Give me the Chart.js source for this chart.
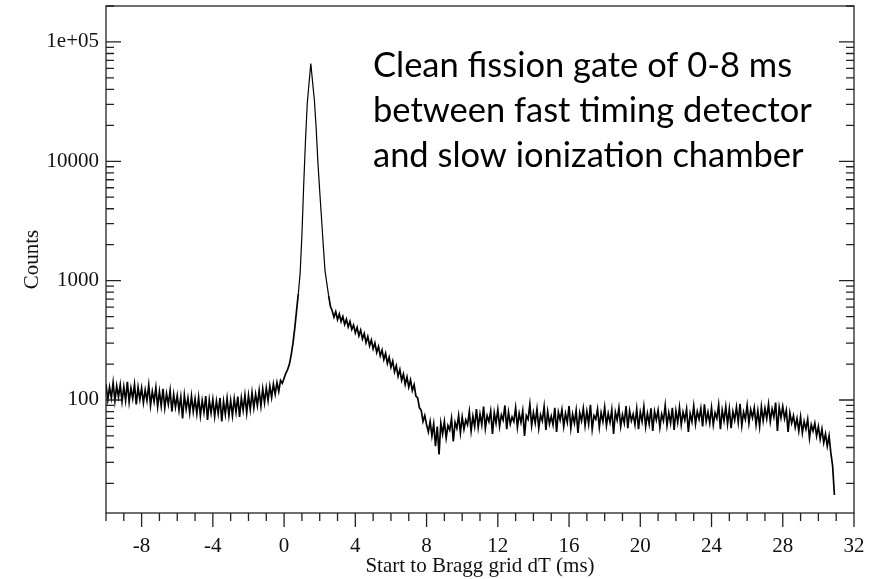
<!DOCTYPE html>
<html>
<head>
<meta charset="utf-8">
<script src="https://cdn.jsdelivr.net/npm/chart.js@4.4.0/dist/chart.umd.min.js"></script>
<style>
  html, body { margin: 0; padding: 0; background: #fff; }
  #wrap { width: 869px; height: 579px; }
</style>
</head>
<body>
<div id="wrap"><canvas id="mychart" width="869" height="579"></canvas></div>
<script>
// histogram, bins 0.1 ms wide
var binWidth = 0.1;

var baselineStart = -10.0;
var baselineCounts = [
  136, 100, 128, 104, 140, 98, 131, 106, 134, 97,
  129, 99, 142, 96, 126, 103, 135, 92, 128, 101,
  126, 95, 121, 99, 133, 90, 118, 97, 127, 88,
  118, 89, 124, 86, 113, 92, 120, 80, 111, 87,
  109, 82, 106, 70, 110, 84, 104, 78, 108, 80,
  102, 77, 105, 74, 99, 79, 108, 68, 100, 78,
  101, 73, 98, 77, 104, 66, 97, 76, 103, 74,
  99, 74, 102, 79, 107, 72, 104, 82, 110, 78,
  109, 83, 115, 86, 112, 90, 120, 89, 124, 95,
  126, 99, 131, 105, 136, 112, 140, 118, 146, 138
];

var peakStart = 0.0;
var peakCounts = [
  152, 168, 180, 200, 240, 300, 400, 560, 780, 1150,
  2400, 6300, 14800, 30500, 45000, 66000, 46000, 32600, 19000, 9700,
  5600, 3350, 1970, 1200, 950, 750, 610
];

var shoulderStart = 2.7;
var shoulderCounts = [
  560, 495, 550, 470, 525, 455, 500, 430, 475, 410,
  455, 390, 425, 365, 405, 345, 385, 325, 360, 302,
  340, 285, 318, 268, 300, 250, 280, 235, 262, 218,
  246, 202, 228, 188, 212, 172, 194, 158, 180, 146,
  165, 135, 156, 128, 147, 120, 134, 108, 104, 86,
  82, 66, 74
];

var plateauStart = 8.0;
var plateauCounts = [
  62, 54, 66, 50, 63, 41, 60, 35, 64, 52,
  66, 48, 61, 56, 70, 45, 65, 58, 74, 53,
  72, 57, 68, 62, 80, 55, 73, 60, 84, 59,
  76, 62, 88, 58, 74, 66, 81, 52, 78, 64,
  83, 60, 75, 68, 90, 57, 79, 63, 72, 66,
  86, 59, 77, 65, 81, 50, 74, 69, 92, 61,
  78, 64, 84, 58, 75, 67, 88, 56, 80, 63,
  73, 62, 86, 54, 79, 68, 83, 60, 77, 65,
  89, 58, 76, 64, 82, 53, 78, 67, 85, 61,
  80, 63, 91, 57, 74, 69, 84, 59, 78, 66,
  87, 61, 77, 65, 83, 52, 79, 68, 86, 60,
  75, 64, 89, 58, 81, 67, 76, 62, 84, 57,
  79, 66, 88, 60, 77, 63, 85, 55, 80, 68,
  82, 59, 76, 67, 90, 61, 78, 64, 86, 56,
  81, 65, 87, 62, 79, 68, 84, 54, 77, 66,
  89, 63, 80, 69, 85, 60, 92, 66, 79, 64,
  86, 62, 78, 70, 91, 57, 82, 67, 88, 63,
  84, 58, 80, 68, 87, 65, 93, 61, 79, 69,
  90, 64, 83, 71, 86, 62, 81, 60, 88, 67,
  85, 70, 92, 66, 84, 72, 95, 55, 87, 71
];

var tailStart = 28.0;
var tailCounts = [
  88, 70, 82, 54, 78, 64, 74, 59, 70, 55,
  72, 53, 66, 57, 69, 48, 62, 55, 64, 50,
  60, 47, 57, 44, 52, 41, 50, 36, 28, 16
];

var xTicks = [-8, -4, 0, 4, 8, 12, 16, 20, 24, 28, 32];
var yTicks = [100, 1000, 10000, 100000];
var yTickLabels = ['100', '1000', '10000', '1e+05'];

var noteLines = [
  'Clean fission gate of 0-8 ms',
  'between fast timing detector',
  'and slow ionization chamber'
];

function toPoints(start, counts) {
  return counts.map(function (c, i) {
    return { x: Math.round((start + i * binWidth) * 100) / 100, y: c };
  });
}

var points = [].concat(
  toPoints(baselineStart, baselineCounts),
  toPoints(peakStart, peakCounts),
  toPoints(shoulderStart, shoulderCounts),
  toPoints(plateauStart, plateauCounts),
  toPoints(tailStart, tailCounts)
);

var serif = 'Liberation Serif';

// frame, minor ticks and the note
var frame = {
  id: 'frame',
  afterDraw: function (chart) {
    var ctx = chart.ctx, a = chart.chartArea;
    var xs = chart.scales.x, ys = chart.scales.y;
    ctx.save();
    ctx.strokeStyle = '#222';
    ctx.lineWidth = 1.3;
    ctx.strokeRect(a.left, a.top, a.right - a.left, a.bottom - a.top);
    ctx.beginPath();
    for (var v = xs.min; v <= xs.max; v += 1) {
      var px = xs.getPixelForValue(v);
      var len = xTicks.indexOf(v) >= 0 ? 14 : 8;
      ctx.moveTo(px, a.bottom);
      ctx.lineTo(px, a.bottom + len);
    }
    for (var d = 1; d <= 5; d++) {
      for (var m = 1; m <= 9; m++) {
        var val = m * Math.pow(10, d);
        if (val < ys.min || val > ys.max) continue;
        var py = ys.getPixelForValue(val);
        var l = m === 1 ? 15 : 8;
        ctx.moveTo(a.left, py); ctx.lineTo(a.left + l, py);
        ctx.moveTo(a.right, py); ctx.lineTo(a.right - l, py);
      }
    }
    ctx.stroke();

    ctx.font = '37px Lato';
    var w = ctx.measureText(noteLines[1]).width;
    var size = 37 * 439 / w;
    ctx.font = size + 'px Lato';
    ctx.fillStyle = '#000';
    ctx.textBaseline = 'alphabetic';
    ctx.textAlign = 'left';
    noteLines.forEach(function (t, i) {
      ctx.fillText(t, 373, 77 + i * 45);
    });
    ctx.restore();
  }
};

var ctx = document.getElementById('mychart');
var myChart = new Chart(ctx, {
  type: 'line',
  data: {
    datasets: [{
      data: points,
      borderColor: '#000',
      borderWidth: 1.7,
      pointRadius: 0,
      tension: 0,
      fill: false,
      segment: {
        // the steep peak is a thin line, the noisy parts look denser
        borderWidth: function (c) { return (c.p0.parsed.y > 800 || c.p1.parsed.y > 800) ? 1.2 : 1.7; }
      }
    }]
  },
  options: {
    responsive: false,
    animation: false,
    layout: { padding: { top: 6, right: 15, left: 0, bottom: 0 } },
    plugins: {
      legend: { display: false },
      tooltip: { enabled: false }
    },
    scales: {
      x: {
        type: 'linear',
        min: -10,
        max: 32,
        afterBuildTicks: function (s) { s.ticks = xTicks.map(function (v) { return { value: v }; }); },
        afterFit: function (s) { s.height = 66; s.paddingLeft = 0; s.paddingRight = 0; },
        grid: { display: false, drawTicks: false },
        border: { display: false },
        ticks: { color: '#111', font: { family: serif, size: 21 }, padding: 21, maxRotation: 0 },
        title: {
          display: true,
          text: 'Start to Bragg grid dT (ms)',
          color: '#111',
          font: { family: serif, size: 21 },
          padding: { top: 0, bottom: 0 }
        }
      },
      y: {
        type: 'logarithmic',
        min: 11.3,
        max: 200000,
        afterBuildTicks: function (s) { s.ticks = yTicks.map(function (v) { return { value: v }; }); },
        afterFit: function (s) { s.width = 106; s.paddingTop = 0; s.paddingBottom = 0; },
        grid: { display: false, drawTicks: false },
        border: { display: false },
        ticks: {
          color: '#111',
          font: { family: serif, size: 21 },
          padding: 7,
          callback: function (v) {
            var i = yTicks.indexOf(v);
            return i >= 0 ? yTickLabels[i] : '';
          }
        },
        title: {
          display: true,
          text: 'Counts',
          color: '#111',
          font: { family: serif, size: 21 },
          padding: { top: 20, bottom: 0 }
        }
      }
    }
  },
  plugins: [frame]
});
</script>
</body>
</html>
